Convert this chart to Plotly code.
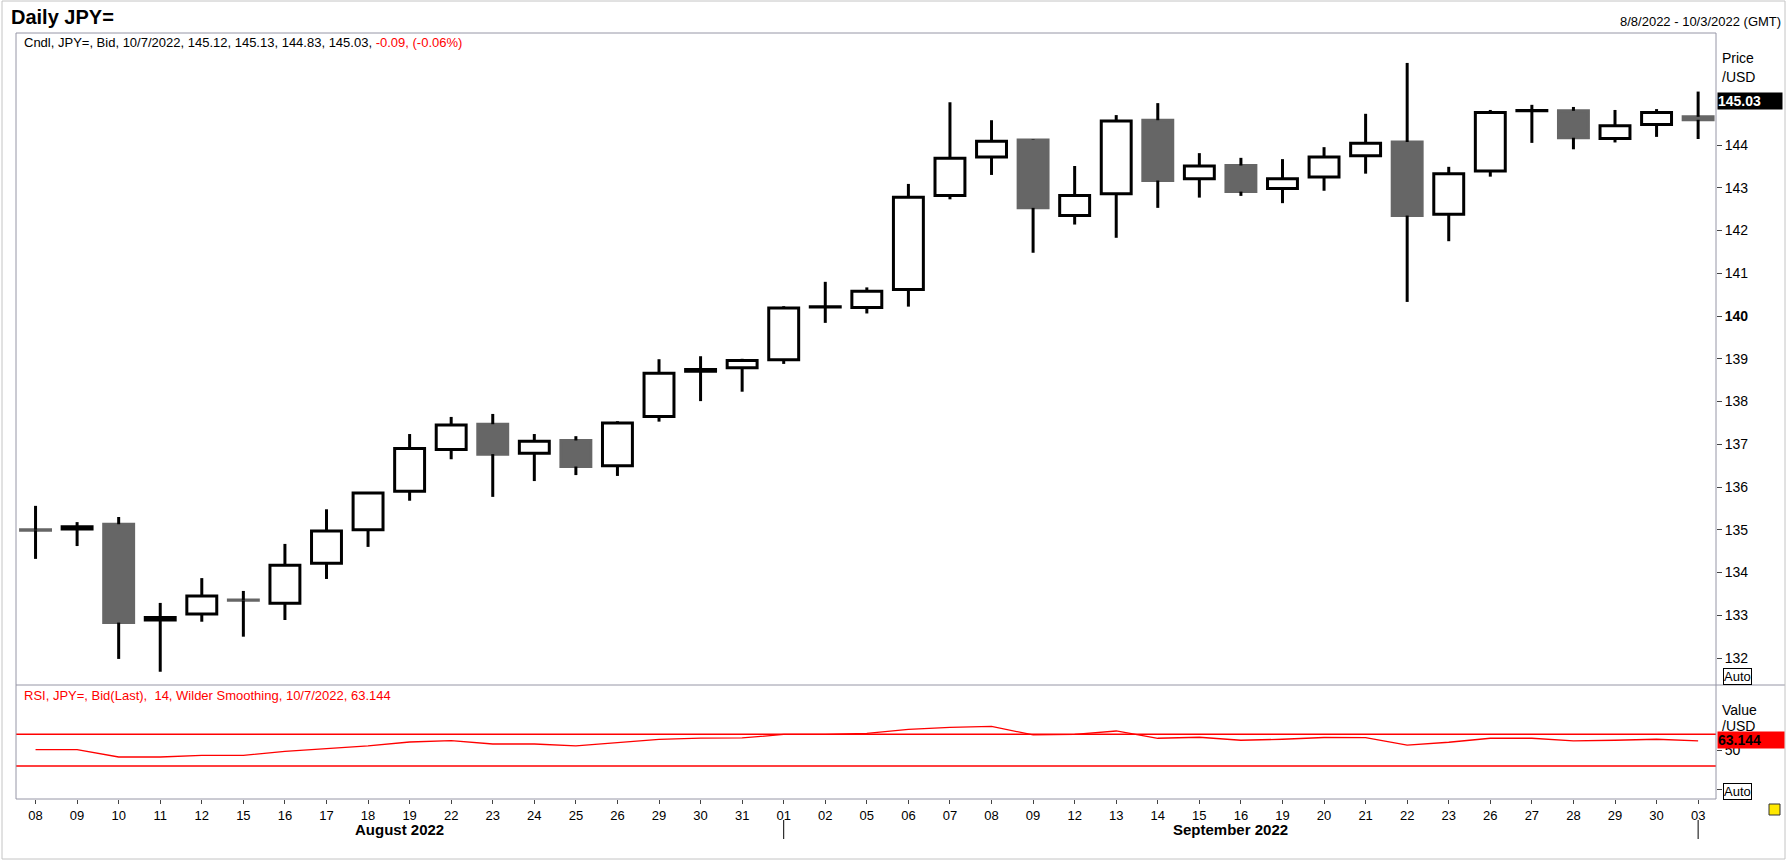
import plotly.graph_objects as go

# trading days shown on the chart (8/8/2022 - 10/3/2022)
days = ["08", "09", "10", "11", "12", "15", "16", "17", "18", "19",
        "22", "23", "24", "25", "26", "29", "30", "31",
        "01", "02", "05", "06", "07", "08", "09", "12", "13", "14", "15", "16",
        "19", "20", "21", "22", "23", "26", "27", "28", "29", "30",
        "03"]
months = ["August 2022"] * 18 + ["September 2022"] * 22 + ["October 2022"]

opens = [135.00, 135.02, 135.13, 132.89, 133.03, 133.36, 133.28, 134.22, 135.00, 135.90,
         136.88, 137.47, 136.79, 137.09, 136.50, 137.65, 138.71, 138.79,
         138.98, 140.21, 140.20, 140.62, 142.82, 143.72, 144.12, 142.35, 142.86, 144.58, 143.21, 143.52,
         142.98, 143.25, 143.75, 144.07, 142.38, 143.39, 144.80, 144.80, 144.15, 144.48,
         144.66]
highs = [135.56, 135.18, 135.30, 133.29, 133.87, 133.57, 134.67, 135.48, 135.87, 137.24,
         137.64, 137.71, 137.24, 137.19, 137.54, 138.99, 139.06, 139.00,
         140.23, 140.80, 140.67, 143.09, 145.00, 144.58, 144.13, 143.51, 144.70, 144.98, 143.81, 143.70,
         143.67, 143.95, 144.73, 145.92, 143.49, 144.82, 144.94, 144.89, 144.82, 144.84,
         145.25]
lows = [134.32, 134.62, 131.98, 131.68, 132.85, 132.50, 132.89, 133.85, 134.60, 135.68,
        136.65, 135.77, 136.14, 136.28, 136.26, 137.53, 138.01, 138.23,
        138.88, 139.84, 140.06, 140.22, 142.73, 143.30, 141.48, 142.14, 141.83, 142.53, 142.77, 142.81,
        142.64, 142.93, 143.33, 140.33, 141.75, 143.26, 144.05, 143.90, 144.06, 144.19,
        144.14]
closes = [134.99, 135.07, 132.83, 132.95, 133.45, 133.35, 134.17, 134.97, 135.86, 136.90,
          137.45, 136.77, 137.07, 136.48, 137.50, 138.66, 138.75, 138.96,
          140.19, 140.22, 140.58, 142.78, 143.69, 144.09, 142.53, 142.82, 144.56, 143.17, 143.51, 142.91,
          143.21, 143.72, 144.04, 142.35, 143.33, 144.76, 144.81, 144.17, 144.45, 144.76,
          144.59]

rsi = [50.6, 50.6, 41.4, 41.4, 43.5, 43.5, 48.5, 51.9, 55.3, 60.3,
       62.0, 57.8, 57.8, 55.3, 59.8, 63.7, 65.2, 65.4,
       69.8, 70.0, 71.3, 76.3, 78.7, 80.0, 69.2, 70.0, 74.2, 65.0, 66.3, 62.5,
       63.8, 66.0, 65.8, 56.3, 60.0, 65.0, 65.0, 61.7, 62.5, 63.8,
       61.7]

price_ticks = list(range(132, 145))
rsi_upper, rsi_lower = 70, 30

hdr_date = "10/7/2022"
hdr_ohlc = [145.12, 145.13, 144.83, 145.03]
hdr_change, hdr_change_pct = -0.09, -0.06
last_price = 145.03
last_rsi = 63.144

FONT = "Liberation Sans, Arial, sans-serif"
FRAME = "#9696a6"
GREY = "#666666"

W, H = 1788, 862
L, R, T, B = 16, 1716, 33, 799
SPLIT = 685


def px(x):
    return (x - L) / (R - L)


def py(y):
    return (B - y) / (B - T)


idx = list(range(len(days)))
up = [c >= o for o, c in zip(opens, closes)]

fig = go.Figure()

# candle bodies
for is_up, fill, edge in [(True, "white", "black"), (False, GREY, GREY)]:
    sel = [i for i in idx if up[i] == is_up]
    fig.add_trace(go.Bar(
        x=sel,
        base=[min(opens[i], closes[i]) for i in sel],
        y=[abs(closes[i] - opens[i]) for i in sel],
        width=0.72,
        marker=dict(color=fill, line=dict(color=edge, width=3)),
        hoverinfo="skip",
    ))

# wicks (above and below the body)
wx, wy = [], []
for i in idx:
    top, bot = max(opens[i], closes[i]), min(opens[i], closes[i])
    wx += [i, i, None, i, i, None]
    wy += [highs[i], top, None, bot, lows[i], None]
fig.add_trace(go.Scatter(x=wx, y=wy, mode="lines",
                         line=dict(color="black", width=3), hoverinfo="skip"))

# RSI
fig.add_trace(go.Scatter(x=idx, y=rsi, yaxis="y2", mode="lines",
                         line=dict(color="red", width=1.3), hoverinfo="skip"))

shapes = []
for lvl in (rsi_upper, rsi_lower):
    shapes.append(dict(type="line", xref="paper", yref="y2", x0=0, x1=1, y0=lvl, y1=lvl,
                       line=dict(color="red", width=1.5)))
# frames
shapes.append(dict(type="rect", xref="paper", yref="paper", x0=0, x1=1, y0=0, y1=1,
                   line=dict(color=FRAME, width=1)))
shapes.append(dict(type="line", xref="paper", yref="paper", x0=0, x1=px(1785),
                   y0=py(SPLIT), y1=py(SPLIT), line=dict(color=FRAME, width=1)))
shapes.append(dict(type="rect", xref="paper", yref="paper", x0=px(2), x1=px(1785),
                   y0=py(859), y1=py(1), line=dict(color="#c4c4c4", width=1)))
# small yellow tool icon, bottom right
shapes.append(dict(type="rect", xref="paper", yref="paper", x0=px(1769), x1=px(1780),
                   y0=py(815), y1=py(804), fillcolor="#ffe800",
                   line=dict(color="#333", width=1)))

# month separators and month labels
annotations = []
starts = [0] + [i for i in idx[1:] if months[i] != months[i - 1]]
for k, s in enumerate(starts):
    if s > 0:
        shapes.append(dict(type="line", xref="x", yref="paper", x0=s, x1=s,
                           y0=py(820), y1=py(839), line=dict(color="black", width=1)))
    e = starts[k + 1] - 1 if k + 1 < len(starts) else idx[-1]
    if e - s >= 5:
        annotations.append(dict(x=(s + e) / 2 + 0.25, y=py(830), xref="x", yref="paper",
                                yanchor="middle",
                                text="<b>%s</b>" % months[s], showarrow=False,
                                font=dict(size=15, color="black", family=FONT)))


def note(text, x, y, size=13, color="black", anchor="left", **kw):
    annotations.append(dict(text=text, x=px(x), y=py(y), xref="paper", yref="paper",
                            xanchor=anchor, yanchor="middle", showarrow=False,
                            font=dict(size=size, color=color, family=FONT), **kw))


note("<b>Daily JPY=</b>", 9, 17, size=20)
note("8/8/2022 - 10/3/2022 (GMT)", 1783, 22, anchor="right")
cndl = "Cndl, JPY=, Bid, %s, %s, " % (hdr_date, ", ".join("%.2f" % v for v in hdr_ohlc))
cndl += "<span style='color:red'>%.2f, (%.2f%%)</span>" % (hdr_change, hdr_change_pct)
note(cndl, 22, 43)
note("RSI, JPY=, Bid(Last),  14, Wilder Smoothing, %s, %.3f" % (hdr_date, last_rsi),
     22, 695, color="red")
note("Price", 1720, 58, size=14)
note("/USD", 1720, 77, size=14)
note("Value", 1720, 710, size=14)
note("/USD", 1720, 726, size=14)
for yy in (676, 791):
    note("Auto", 1723, yy, size=13, bgcolor="white", bordercolor="black",
         borderwidth=1, borderpad=0)

annotations.append(dict(text="<b>%.2f</b>" % last_price, x=px(1717), y=last_price,
                        xref="paper", yref="y", xanchor="left", yanchor="middle",
                        showarrow=False, bgcolor="black", width=64, align="left",
                        borderpad=0, font=dict(size=14, color="white", family=FONT)))
annotations.append(dict(text="<b>%.3f</b>" % last_rsi, x=px(1717), y=last_rsi,
                        xref="paper", yref="y2", xanchor="left", yanchor="middle",
                        showarrow=False, bgcolor="red", width=66, align="left",
                        borderpad=0, font=dict(size=14, color="black", family=FONT)))

fig.update_layout(
    width=W, height=H,
    margin=dict(l=L, r=W - R, t=T, b=H - B),
    paper_bgcolor="white", plot_bgcolor="white",
    showlegend=False, barmode="overlay",
    font=dict(family=FONT, size=13, color="black"),
    xaxis=dict(range=[-0.47, idx[-1] + 0.43], anchor="y2",
               tickvals=idx, ticktext=days, ticks="outside", ticklen=4,
               tickcolor="#444", showgrid=False, zeroline=False, showline=False,
               tickfont=dict(size=13, family=FONT, color="black")),
    yaxis=dict(domain=[py(SPLIT), 1], range=[131.37, 146.62], side="right",
               tickvals=price_ticks,
               ticktext=["<b>%d</b>" % v if v % 10 == 0 else str(v) for v in price_ticks],
               ticks="outside", ticklen=5, tickcolor="#444", showgrid=False,
               zeroline=False, showline=False,
               tickfont=dict(size=14, family=FONT, color="black")),
    yaxis2=dict(domain=[0, py(SPLIT)], range=[-11.6, 132.2], side="right", anchor="x",
                tickvals=[0, 50], ticktext=["", "50"], ticks="outside", ticklen=5,
                tickcolor="#444", showgrid=False, zeroline=False, showline=False,
                tickfont=dict(size=14, family=FONT, color="black")),
    shapes=shapes,
    annotations=annotations,
)

# page margin off so the figure sits flush with the window
fig.write_html("out.html", config={"displayModeBar": False},
               post_script="document.body.style.margin='0';")
